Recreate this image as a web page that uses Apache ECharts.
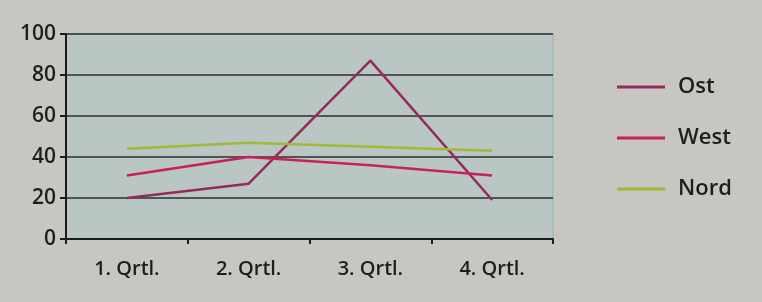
<!DOCTYPE html>
<html><head><meta charset="utf-8">
<script src="https://cdn.jsdelivr.net/npm/echarts@6/dist/echarts.min.js"></script>
<style>html,body{margin:0;padding:0;background:#c8c6c0;}#c{width:762px;height:302px;}</style>
</head><body><div id="c"></div>
<script>
const categories = ['1. Qrtl.', '2. Qrtl.', '3. Qrtl.', '4. Qrtl.'];
const ost = [20, 27, 87, 19];
const west = [31, 40, 36, 31];
const nord = [44, 47, 45, 43];
const yTicks = [0, 20, 40, 60, 80, 100];

const chart = echarts.init(document.getElementById('c'));
const font = '"Open Sans", "Noto Sans", sans-serif';
chart.setOption({
  backgroundColor: '#c8c6c0',
  animation: false,
  grid: { left: 66, right: 209, top: 34, bottom: 63, show: true, backgroundColor: '#b9c6c3', borderColor: '#8fb4c0', borderWidth: 1 },
  legend: {
    orient: 'vertical', left: 612, top: 71, itemGap: 29, itemWidth: 48, itemHeight: 3, icon: 'rect',
    textStyle: { fontFamily: font, fontSize: 22, fontWeight: 600, color: '#1e1e1e', padding: [0, 0, 0, 8] },
    data: ['Ost', 'West', 'Nord']
  },
  xAxis: {
    type: 'category', data: categories, boundaryGap: true,
    axisLine: { lineStyle: { color: '#1a1a1a', width: 2 } },
    axisTick: { show: true, length: 5, interval: 0, alignWithLabel: false, lineStyle: { color: '#1a1a1a', width: 2 } },
    axisLabel: { fontFamily: font, fontSize: 20, fontWeight: 600, color: '#1e1e1e', margin: 20 }
  },
  yAxis: {
    type: 'value', min: 0, max: 100, interval: 20,
    axisLine: { show: true, lineStyle: { color: '#1a1a1a', width: 2 } },
    axisTick: { show: true, length: 6, lineStyle: { color: '#1a1a1a', width: 2 } },
    axisLabel: { fontFamily: font, fontSize: 21, fontWeight: 600, color: '#1e1e1e', margin: 10, formatter: v => yTicks.includes(v) ? String(v) : '' },
    splitLine: { show: true, lineStyle: { color: '#2e2e2e', width: 1.5 } }
  },
  series: [
    { name: 'Ost', type: 'line', data: ost, symbol: 'none', lineStyle: { color: '#962a5c', width: 2.5 }, itemStyle: { color: '#962a5c' } },
    { name: 'West', type: 'line', data: west, symbol: 'none', lineStyle: { color: '#c8215a', width: 2.5 }, itemStyle: { color: '#c8215a' } },
    { name: 'Nord', type: 'line', data: nord, symbol: 'none', lineStyle: { color: '#a2b836', width: 2.5 }, itemStyle: { color: '#a2b836' } }
  ]
});
</script></body></html>
